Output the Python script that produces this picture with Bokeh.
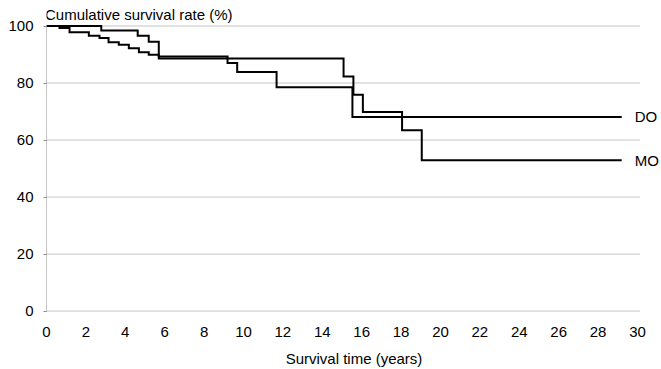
from bokeh.plotting import figure
from bokeh.models import Label, FixedTicker, Range1d
from bokeh.embed import file_html
from bokeh.resources import INLINE

# Kaplan-Meier style step data (years, % surviving)
do_time = [0, 0.66, 1.17, 2.15, 2.69, 3.15, 3.67, 4.18, 4.69, 5.19, 5.70, 9.19, 9.68, 11.68, 15.53, 29.2]
do_surv = [100, 99.3, 97.8, 96.6, 95.8, 94.3, 93.4, 92.2, 90.8, 89.9, 89.3, 87.0, 83.9, 78.5, 68.1, 68.1]

mo_time = [0, 2.78, 4.63, 5.19, 5.70, 15.08, 15.58, 16.06, 18.05, 19.05, 29.2]
mo_surv = [100, 98.4, 96.6, 94.5, 88.6, 82.3, 75.9, 69.8, 63.4, 52.9, 52.9]

series_names = ["DO", "MO"]
x_ticks = list(range(0, 31, 2))
y_ticks = [0, 20, 40, 60, 80, 100]
y_title = "Cumulative survival rate (%)"
x_title = "Survival time (years)"

FONT = "Liberation Sans"
GRID = "#8c8c8c"
GRID_END = 30.12   # horizontal extent of the dotted reference lines

p = figure(width=661, height=369, output_backend="svg", toolbar_location=None,
           x_range=Range1d(0, 31.22), y_range=Range1d(-0.5, 107.9),
           min_border_left=46, min_border_right=0, min_border_top=3, min_border_bottom=55)
p.outline_line_color = None
p.background_fill_color = "white"
p.border_fill_color = "white"
p.xgrid.grid_line_color = None
p.ygrid.grid_line_color = None

# dotted horizontal reference lines at the y ticks
p.segment(x0=0, y0=y_ticks, x1=GRID_END, y1=y_ticks,
          line_color=GRID, line_dash="1 1", line_width=1)

# y axis
p.yaxis.ticker = FixedTicker(ticks=y_ticks)
p.yaxis.bounds = (y_ticks[0], y_ticks[-1])
p.yaxis.axis_line_color = GRID
p.yaxis.axis_line_dash = "1 1"
p.yaxis.major_tick_line_color = GRID
p.yaxis.major_tick_out = 3
p.yaxis.major_tick_in = 0
p.yaxis.minor_tick_line_color = None
p.yaxis.major_label_standoff = 10
p.yaxis.major_label_text_font = FONT
p.yaxis.major_label_text_font_size = "15px"
p.yaxis.major_label_text_color = "#000000"

# x axis
p.xaxis.ticker = FixedTicker(ticks=x_ticks)
p.xaxis.axis_line_color = None
p.xaxis.major_tick_line_color = None
p.xaxis.minor_tick_line_color = None
p.xaxis.major_label_standoff = 8
p.xaxis.major_label_text_font = FONT
p.xaxis.major_label_text_font_size = "15px"
p.xaxis.major_label_text_color = "#000000"
p.xaxis.axis_label = x_title
p.xaxis.axis_label_text_font = FONT
p.xaxis.axis_label_text_font_size = "15px"
p.xaxis.axis_label_text_font_style = "normal"
p.xaxis.axis_label_text_color = "#000000"
p.xaxis.axis_label_standoff = 10

# curves
for t, s in [(do_time, do_surv), (mo_time, mo_surv)]:
    p.step(t, s, mode="after", line_color="#000000", line_width=2, line_join="miter")

# end labels
for name, t, s in [(series_names[0], do_time, do_surv), (series_names[1], mo_time, mo_surv)]:
    p.add_layout(Label(x=t[-1], y=s[-1], text=name, x_offset=13, text_baseline="middle",
                       text_font=FONT, text_font_size="15px", text_color="#000000"))

# y title above the plot
p.add_layout(Label(x=0, y=y_ticks[-1], text=y_title, x_offset=-1.5, y_offset=12,
                   text_baseline="alphabetic",
                   text_font=FONT, text_font_size="15px", text_color="#000000"))

open("out.html", "w").write(file_html(p, INLINE))
